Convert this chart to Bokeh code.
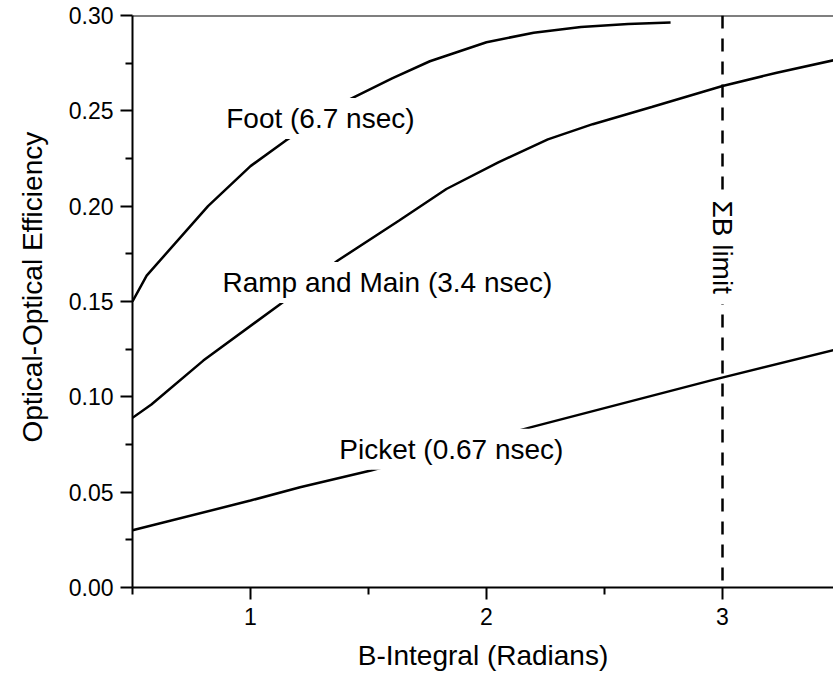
from bokeh.plotting import figure
from bokeh.models import Label, Span, FixedTicker, PrintfTickFormatter, Range1d, Title
from bokeh.embed import file_html
from bokeh.resources import INLINE
import math

# ---- data ----
foot_x = [0.50, 0.56, 0.82, 1.00, 1.15, 1.42, 1.60, 1.76, 2.00, 2.20, 2.40, 2.60, 2.78]
foot_y = [0.150, 0.1636, 0.200, 0.221, 0.2345, 0.256, 0.267, 0.276, 0.286, 0.291, 0.294, 0.2955, 0.2963]

ramp_x = [0.50, 0.58, 0.80, 1.13, 1.37, 1.63, 1.83, 2.05, 2.26, 2.45, 2.70, 3.00, 3.23, 3.47]
ramp_y = [0.089, 0.096, 0.119, 0.149, 0.1715, 0.1925, 0.209, 0.223, 0.235, 0.243, 0.252, 0.263, 0.270, 0.2765]

picket_x = [0.50, 1.00, 1.21, 1.51, 2.19, 2.96, 3.47]
picket_y = [0.030, 0.0456, 0.0526, 0.0614, 0.0841, 0.1089, 0.1245]

b_limit = 3.0

x_ticks = [1, 2, 3]
x_minor = [0.5, 1.5, 2.5, 3.5]
y_ticks = [0.00, 0.05, 0.10, 0.15, 0.20, 0.25, 0.30]
y_minor = [0.025, 0.075, 0.125, 0.175, 0.225, 0.275]

label_text = ["Foot (6.7 nsec)", "Ramp and Main (3.4 nsec)", "Picket (0.67 nsec)"]
label_x = [0.876, 0.860, 1.355]
label_y = [0.246, 0.160, 0.0725]
limit_label = "\u03a3B limit"
limit_label_y = 0.1785

x_title = "B-Integral (Radians)"
y_title = "Optical-Optical Efficiency"

FONT = "Liberation Sans"

p = figure(width=833, height=674, output_backend="svg", toolbar_location=None,
           x_range=Range1d(0.5, 3.4703), y_range=Range1d(0.0, 0.30),
           min_border_left=132, min_border_right=0, min_border_top=15, min_border_bottom=87)
p.outline_line_color = None
p.xgrid.grid_line_color = None
p.ygrid.grid_line_color = None
p.background_fill_color = "white"
p.border_fill_color = "white"

for ax in (p.xaxis[0], p.yaxis[0]):
    ax.axis_line_width = 2
    ax.axis_line_color = "black"
    ax.major_tick_line_width = 2
    ax.minor_tick_line_width = 2
    ax.major_tick_line_color = "black"
    ax.minor_tick_line_color = "black"
    ax.major_tick_in = 0
    ax.major_tick_out = 12
    ax.minor_tick_in = 0
    ax.minor_tick_out = 7
    ax.major_label_text_font = FONT
    ax.major_label_text_font_size = "23px"
    ax.major_label_text_color = "black"

p.xaxis.ticker = FixedTicker(ticks=x_ticks, minor_ticks=x_minor)
p.yaxis.ticker = FixedTicker(ticks=y_ticks, minor_ticks=y_minor)
p.yaxis.formatter = PrintfTickFormatter(format="%.2f")
p.xaxis.major_label_standoff = 8
p.yaxis.major_label_standoff = 7

p.xaxis.axis_label = x_title
p.xaxis.axis_label_text_font = FONT
p.xaxis.axis_label_text_font_size = "28px"
p.xaxis.axis_label_text_font_style = "normal"
p.xaxis.axis_label_text_color = "black"
p.xaxis.axis_label_standoff = 12

# y-axis title as a side title, placed to match the reference
p.add_layout(Title(text=y_title, align="left", offset=145, standoff=31,
                   vertical_align="top",
                   text_font=FONT, text_font_size="28px", text_font_style="normal",
                   text_color="black"), "left")

# top border line
p.add_layout(Span(location=0.30, dimension="width", line_color="black", line_width=2))
# Sigma-B limit dashed line
p.add_layout(Span(location=b_limit, dimension="height", line_color="black",
                  line_width=2.5, line_dash="13 10"))

for xs, ys in ((foot_x, foot_y), (ramp_x, ramp_y), (picket_x, picket_y)):
    p.line(xs, ys, line_color="black", line_width=2.5)

for t, lx, ly in zip(label_text, label_x, label_y):
    p.add_layout(Label(x=lx, y=ly, text=t, text_font=FONT, text_font_size="28px",
                       text_color="black", text_align="left", text_baseline="middle",
                       background_fill_color="white", padding=5))

p.add_layout(Label(x=b_limit, y=limit_label_y, text=limit_label, angle=-math.pi / 2,
                   text_font=FONT, text_font_size="28px", text_color="black",
                   text_align="center", text_baseline="middle",
                   background_fill_color="white", padding=10))

open("out.html", "w").write(file_html(p, INLINE))
